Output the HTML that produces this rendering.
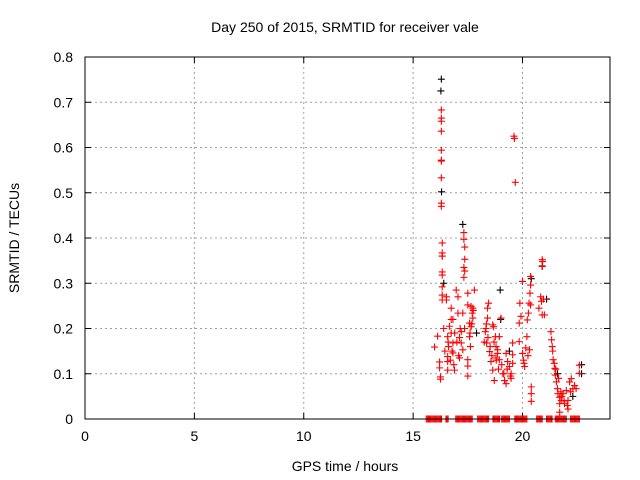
<!DOCTYPE html>
<html><head><meta charset="utf-8"><style>
body{margin:0;background:#fff;}
svg{display:block;font-family:"Liberation Sans",sans-serif;}
</style></head><body>
<svg id="chart" width="640" height="480"></svg>
<script>
const xTicks=[0,5,10,15,20];
const yTicks=[0,0.1,0.2,0.3,0.4,0.5,0.6,0.7,0.8];
const yTickLabels=["0","0.1","0.2","0.3","0.4","0.5","0.6","0.7","0.8"];
const redHours=[16.29,16.29,16.29,16.29,16.29,16.29,16.29,16.29,16.29,16.29,16.33,16.33,16.33,16.33,16.33,16.33,16.33,16.33,16.33,
16.12,15.98,16.21,16.21,16.25,16.25,16.52,16.52,16.58,16.62,16.58,16.58,16.58,16.74,16.74,16.66,16.82,16.74,16.82,16.82,16.89,16.97,17.05,17.05,17.12,17.12,17.2,
17.32,17.32,17.36,17.36,17.32,17.36,17.32,17.27,17.35,17.2,17.27,17.5,17.5,17.5,17.5,17.5,17.58,17.58,17.62,17.65,17.7,17.73,17.65,17.8,17.73,17.75,
18.45,18.4,18.4,18.33,18.3,18.25,18.36,18.5,18.56,18.64,18.71,18.64,18.68,18.76,18.79,18.86,18.94,19.02,18.94,18.86,18.79,19.1,19.18,19.25,19.32,19.25,19.4,19.48,19.48,19.55,19.55,19.55,
19.63,19.61,19.67,19.85,19.85,19.88,20.0,19.93,20.0,20.07,20.1,20.15,20.2,20.22,20.27,20.3,20.34,20.37,20.37,20.32,20.4,20.4,20.4,20.37,
20.75,20.83,20.87,20.9,20.92,20.9,20.9,21.0,20.96,21.3,21.33,21.36,21.4,21.45,21.48,21.5,21.55,21.6,21.62,21.7,21.7,21.7,21.77,21.85,21.92,22.0,22.08,22.08,22.15,22.23,22.3,22.38,22.45,22.6,22.6,
16.4,16.45,16.6,16.7,16.78,16.86,16.9,17.0,17.08,17.15,17.6,17.68,18.35,18.42,18.52,18.6,18.7,18.8,18.9,19.05,19.15,19.3,19.45,20.05,20.25,21.38,21.52,21.65,21.75,21.8,21.9,22.05,22.2];
const redValues=[0.683,0.665,0.658,0.636,0.594,0.572,0.533,0.477,0.47,0.57,0.389,0.367,0.36,0.36,0.325,0.318,0.292,0.274,0.263,
0.183,0.159,0.126,0.113,0.093,0.088,0.263,0.27,0.182,0.16,0.138,0.127,0.108,0.245,0.22,0.205,0.22,0.19,0.168,0.146,0.108,0.285,0.27,0.234,0.18,0.135,0.168,
0.412,0.397,0.38,0.353,0.335,0.327,0.313,0.234,0.2,0.193,0.153,0.278,0.252,0.131,0.117,0.095,0.212,0.182,0.16,0.249,0.234,0.223,0.204,0.285,0.245,0.24,
0.256,0.245,0.223,0.2,0.193,0.17,0.168,0.149,0.127,0.108,0.085,0.208,0.204,0.182,0.16,0.153,0.182,0.223,0.131,0.145,0.135,0.1,0.085,0.145,0.127,0.078,0.116,0.1,0.09,0.168,0.142,0.123,
0.62,0.625,0.523,0.212,0.171,0.256,0.304,0.227,0.145,0.123,0.116,0.157,0.182,0.219,0.234,0.256,0.278,0.296,0.315,0.153,0.071,0.056,0.039,0.252,
0.245,0.27,0.26,0.352,0.348,0.337,0.23,0.23,0.265,0.193,0.175,0.16,0.131,0.123,0.112,0.097,0.082,0.067,0.056,0.048,0.034,0.015,0.041,0.056,0.034,0.063,0.041,0.022,0.082,0.089,0.067,0.074,0.067,0.119,0.101,
0.2,0.15,0.17,0.13,0.15,0.12,0.19,0.17,0.14,0.2,0.19,0.21,0.21,0.18,0.16,0.14,0.17,0.13,0.11,0.12,0.1,0.11,0.095,0.13,0.14,0.15,0.11,0.09,0.06,0.05,0.04,0.03,0.06];
const zeroHours=[15.6,15.65,15.7,15.75,15.8,15.85,15.9,15.95,16.0,16.05,16.1,16.15,16.2,16.25,16.3,
16.5,16.55,16.6,
16.95,17.0,17.05,17.1,17.15,17.2,17.25,17.3,17.35,17.4,17.45,17.5,17.55,17.6,17.65,17.7,
17.95,18.0,18.05,18.1,18.15,18.2,18.25,18.3,18.35,18.4,18.45,
18.65,18.7,18.75,18.8,18.85,18.9,18.95,
19.05,19.1,19.15,19.2,19.25,19.3,19.35,19.4,
19.65,19.7,19.75,19.8,19.85,19.9,19.95,20.0,20.05,20.1,20.15,20.2,
20.65,20.7,20.75,20.8,20.85,20.9,
21.1,21.15,21.2,21.25,21.3,21.35,
21.5,21.55,21.6,21.65,21.7,21.75,21.8,21.85,21.9,21.95,22.0,
22.2,22.25,22.3,22.35,22.4,22.45,22.5,22.55,22.6];
const blackHours=[16.29,16.27,16.3,17.27,18.98,20.4,20.9,21.1,22.7,22.7,19.0,16.4,17.9,19.4,21.6,22.3];
const blackValues=[0.751,0.725,0.502,0.43,0.285,0.31,0.338,0.265,0.12,0.1,0.22,0.3,0.19,0.15,0.1,0.05];

const L=85,R=610,T=57,B=419,xMax=24,yMax=0.8;
const sx=h=>L+(h/xMax)*(R-L);
const sy=v=>B-(v/yMax)*(B-T);
const NS="http://www.w3.org/2000/svg";
const svg=document.getElementById('chart');
function mk(tag,attrs,parent){const e=document.createElementNS(NS,tag);for(const k in attrs)e.setAttribute(k,attrs[k]);(parent||svg).appendChild(e);return e;}

xTicks.forEach(t=>{
  const g=mk('line',{x1:sx(t),x2:sx(t),y1:T,y2:B,stroke:'#a0a0a0','stroke-dasharray':'2,3','stroke-width':1});
  
  
  mk('line',{x1:sx(t),x2:sx(t),y1:B,y2:B-6,stroke:'#000'});
  mk('line',{x1:sx(t),x2:sx(t),y1:T,y2:T+6,stroke:'#000'});
  const tx=mk('text',{x:sx(t),y:B+22,'text-anchor':'middle','font-size':14,fill:'#000'});
  tx.textContent=String(t);
  
  
});
yTicks.forEach((t,i)=>{
  const g=mk('line',{x1:L,x2:R,y1:sy(t),y2:sy(t),stroke:'#a0a0a0','stroke-dasharray':'2,3','stroke-width':1});
  
  
  mk('line',{x1:L,x2:L+6,y1:sy(t),y2:sy(t),stroke:'#000'});
  mk('line',{x1:R,x2:R-6,y1:sy(t),y2:sy(t),stroke:'#000'});
  const tx=mk('text',{x:L-12,y:sy(t)+5,'text-anchor':'end','font-size':14,fill:'#000'});
  tx.textContent=yTickLabels[i];
  
  
});
function cross(h,v,color,name){
  const x=sx(h),y=sy(v);
  const p=mk('path',{d:`M${x-3.5},${y}H${x+3.5}M${x},${y-3.5}V${y+3.5}`,stroke:color,'stroke-width':1.1,fill:'none'});
  
  
}
blackHours.forEach((h,i)=>cross(h,blackValues[i],'#000','black-point'));
redHours.forEach((h,i)=>cross(h,redValues[i],'#ff0000','red-point'));
zeroHours.forEach(h=>cross(h,0,'#ff0000','zero-point'));
const frame=mk('rect',{x:L,y:T,width:R-L,height:B-T,fill:'none',stroke:'#000','stroke-width':1});


</script>
<svg style="position:absolute;left:0;top:0" width="640" height="480">
<text x="345" y="32" text-anchor="middle" font-size="14" font-family="Liberation Sans, sans-serif">Day 250 of 2015, SRMTID for receiver vale</text>
<text x="345" y="471" text-anchor="middle" font-size="14" font-family="Liberation Sans, sans-serif">GPS time / hours</text>
<text x="19" y="238" text-anchor="middle" font-size="14" font-family="Liberation Sans, sans-serif" transform="rotate(-90 19 238)">SRMTID / TECUs</text>
</svg>
</body></html>
